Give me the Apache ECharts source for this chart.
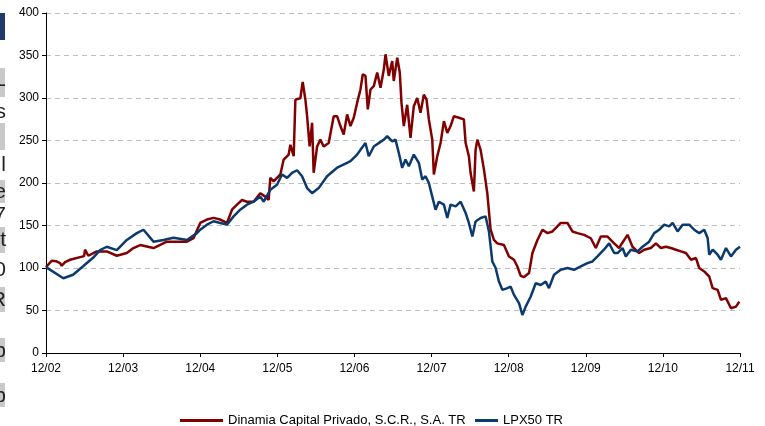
<!DOCTYPE html>
<html>
<head>
<meta charset="utf-8">
<script src="https://cdn.jsdelivr.net/npm/echarts@6/dist/echarts.min.js"></script>
<style>
  html, body { margin: 0; padding: 0; background: #fff; }
  #main { width: 765px; height: 426px; }
</style>
</head>
<body>
<div id="main"></div>
<script>
// x = years since 12/02
var tickLabels = ['12/02', '12/03', '12/04', '12/05', '12/06', '12/07', '12/08', '12/09', '12/10', '12/11'];

var dinamiaName = 'Dinamia Capital Privado, S.C.R., S.A. TR';
var lpxName = 'LPX50 TR';

var dinamiaT = [0, 0.074, 0.13, 0.182, 0.204, 0.247, 0.312, 0.442, 0.494, 0.506, 0.549, 0.658, 0.788, 0.918,
  1.048, 1.134, 1.221, 1.394, 1.568, 1.697, 1.827, 1.913, 2.0, 2.087, 2.173, 2.26, 2.347, 2.412, 2.477,
  2.542, 2.606, 2.692, 2.779, 2.844, 2.887, 2.909, 2.952, 3.039, 3.082, 3.147, 3.169, 3.212, 3.234, 3.299,
  3.329, 3.364, 3.386, 3.419, 3.451, 3.471, 3.516, 3.558, 3.601, 3.666, 3.731, 3.775, 3.818, 3.861, 3.905,
  3.948, 3.991, 4.035, 4.078, 4.108, 4.143, 4.173, 4.208, 4.251, 4.295, 4.338, 4.381, 4.403, 4.445, 4.49,
  4.51, 4.555, 4.588, 4.61, 4.64, 4.684, 4.727, 4.77, 4.814, 4.857, 4.9, 4.935, 4.965, 5.009, 5.03,
  5.074, 5.117, 5.16, 5.204, 5.247, 5.29, 5.355, 5.419, 5.442, 5.484, 5.506, 5.549, 5.571, 5.594, 5.636,
  5.679, 5.723, 5.766, 5.809, 5.853, 5.939, 6.004, 6.069, 6.113, 6.156, 6.199, 6.264, 6.308, 6.373, 6.438,
  6.503, 6.568, 6.632, 6.675, 6.762, 6.827, 6.892, 6.978, 7.065, 7.13, 7.195, 7.282, 7.368, 7.432, 7.455,
  7.542, 7.606, 7.692, 7.757, 7.844, 7.909, 7.974, 8.039, 8.104, 8.169, 8.234, 8.299, 8.364, 8.429, 8.471,
  8.536, 8.601, 8.645, 8.71, 8.753, 8.818, 8.883, 8.948, 8.991];
var dinamiaV = [101, 108.5, 108, 105.8, 102.6, 107, 109.7, 112.8, 114, 121.5, 114.4, 119.5, 119.5, 114.4,
  117.6, 123.5, 127, 123.5, 131, 131, 131, 135, 153, 157, 159, 157, 153, 168.6, 174.5,
  180, 178, 178, 188, 184, 180, 206, 202, 210, 227.6, 233.5, 245, 231.5, 298, 300,
  319, 298, 278.6, 243, 270.8, 212, 243, 251, 243, 247, 278.6, 278.6, 267, 257, 280.7,
  267, 276.8, 294.5, 310, 328, 326, 286.6, 310, 314, 330, 312, 333.7, 351.4, 326, 343.5,
  320, 347.5, 330, 294.5, 267, 292, 253, 290.4, 300, 282.6, 304, 298, 274.8, 251, 210,
  231.5, 247, 272.8, 259, 267, 278.6, 276.8, 274.8, 247, 231.5, 212, 190, 239, 251, 239,
  216, 188, 145, 133, 129, 127, 113.6, 109.7, 101.8, 90.8, 89.3, 94, 117.6, 133, 145,
  141, 143, 149, 153, 153, 143, 141, 139, 135, 123.5, 137, 137, 129, 123.5, 127,
  139, 125, 117.6, 121.5, 123.5, 129, 123.5, 125, 123.5, 121.5, 119.5, 117.6, 109.7, 111.7, 100,
  95.9, 90, 76.3, 74.3, 62.5, 64.5, 52.7, 54.6, 60.5];

var lpxT = [0, 0.009, 0.225, 0.351, 0.481, 0.61, 0.701, 0.788, 0.918, 1.048, 1.178, 1.264, 1.394, 1.523,
  1.653, 1.827, 1.957, 2.0, 2.087, 2.173, 2.26, 2.347, 2.433, 2.519, 2.606, 2.692, 2.779, 2.823, 2.909,
  2.996, 3.061, 3.126, 3.191, 3.256, 3.321, 3.386, 3.451, 3.536, 3.645, 3.775, 3.905, 3.948, 4.035, 4.078,
  4.143, 4.186, 4.251, 4.381, 4.425, 4.49, 4.532, 4.575, 4.619, 4.662, 4.705, 4.77, 4.835, 4.879, 4.922,
  4.965, 5.009, 5.052, 5.095, 5.16, 5.204, 5.247, 5.312, 5.377, 5.442, 5.484, 5.529, 5.571, 5.636, 5.701,
  5.744, 5.788, 5.831, 5.874, 5.918, 5.983, 6.026, 6.069, 6.134, 6.178, 6.221, 6.286, 6.351, 6.416, 6.481,
  6.523, 6.588, 6.675, 6.762, 6.848, 6.935, 7.022, 7.087, 7.152, 7.235, 7.303, 7.368, 7.412, 7.477, 7.519,
  7.584, 7.671, 7.736, 7.822, 7.887, 7.952, 8.017, 8.082, 8.126, 8.191, 8.256, 8.342, 8.406, 8.471, 8.536,
  8.581, 8.601, 8.645, 8.71, 8.753, 8.818, 8.883, 8.948, 9.0];
var lpxV = [101, 102.6, 88, 92, 102, 112, 121, 125, 121, 133, 141, 145, 131, 133,
  135.6, 133, 141, 145, 151, 155, 153, 151, 160.7, 168.6, 174.5, 178, 184, 178, 192,
  198, 210, 206, 212, 215, 208, 194, 188, 194, 208, 218, 223.7, 225.6, 233.5, 239,
  247, 231.5, 243, 251, 255, 249, 251, 235.5, 217.8, 227.6, 219.7, 233.5, 223.7, 204, 208,
  200, 184, 168.6, 178, 174.5, 158.8, 174.5, 172.5, 178, 164.7, 153, 137, 154.8, 158.8, 160.7,
  143, 107.7, 100, 84, 74.3, 76.3, 78, 68.4, 58.6, 44.8, 54.6, 66.4, 82, 80, 84,
  76.3, 92, 97.9, 100, 97.9, 101.8, 105.8, 107.7, 113.6, 121.5, 129, 117.6, 117.6, 123.5, 113.6,
  121.5, 119.5, 125, 131, 141, 145, 151, 149, 153, 143, 151, 151, 145, 141, 145,
  135, 115.6, 121.5, 115.6, 109.7, 123.5, 113.6, 121.5, 125];

function pairs(t, v) {
  var res = [];
  for (var i = 0; i < t.length; i++) {
    res.push([t[i], v[i]]);
  }
  return res;
}

var myChart = echarts.init(document.getElementById('main'));

// cut-off bits of the slide text on the left edge
var leftBoxes = [[68, 29], [123, 27], [180, 23], [227, 26], [287, 25], [338, 24], [383, 24]];
var leftChars = [['-', 85], ['s', 112], ['l', 165], ['e', 192], ['7', 215], ['t', 240], ['0', 270], ['R', 300], ['b', 351], ['b', 396]];
var graphics = [{ type: 'rect', shape: { x: 0, y: 13, width: 5, height: 27 }, style: { fill: '#1f3a68' } }];
leftBoxes.forEach(function (b) {
  graphics.push({ type: 'rect', shape: { x: 0, y: b[0], width: 5, height: b[1] }, style: { fill: '#c9c9c9' } });
});
leftChars.forEach(function (c) {
  graphics.push({
    type: 'text', x: 6, y: c[1],
    style: { text: c[0], fill: '#222', font: '21px Arial, "Liberation Sans"', textAlign: 'right', textVerticalAlign: 'middle' }
  });
});

var option = {
  animation: false,
  textStyle: { fontFamily: 'Arial, "Liberation Sans", sans-serif' },
  grid: { left: 46, right: 25, top: 13, bottom: 73 },
  legend: [{
    data: [dinamiaName],
    left: 175,
    top: 409,
    itemWidth: 43,
    itemHeight: 3,
    icon: 'rect',
    textStyle: { fontSize: 13, color: '#000' }
  }, {
    data: [lpxName],
    left: 470,
    top: 409,
    itemWidth: 23,
    itemHeight: 3,
    icon: 'rect',
    textStyle: { fontSize: 13, color: '#000' }
  }],
  xAxis: {
    type: 'value',
    min: 0,
    max: 9,
    interval: 1,
    axisLine: { lineStyle: { color: '#000', width: 1 } },
    axisTick: { show: true, length: 4, lineStyle: { color: '#000' } },
    axisLabel: {
      fontSize: 12, color: '#000', margin: 10,
      formatter: function (v) { return tickLabels[Math.round(v)]; }
    },
    splitLine: { show: false }
  },
  yAxis: {
    type: 'value',
    min: 0,
    max: 400,
    interval: 50,
    axisLine: { show: true, lineStyle: { color: '#000', width: 1 } },
    axisTick: { show: true, length: 4, lineStyle: { color: '#000' } },
    axisLabel: { fontSize: 12, color: '#000', margin: 7 },
    splitLine: { lineStyle: { color: '#c0c0c0', type: [5, 4], width: 1 } }
  },
  series: [{
    name: dinamiaName,
    type: 'line',
    data: pairs(dinamiaT, dinamiaV),
    showSymbol: false,
    symbol: 'none',
    lineStyle: { color: '#820000', width: 2.5 },
    itemStyle: { color: '#820000' },
    z: 2
  }, {
    name: lpxName,
    type: 'line',
    data: pairs(lpxT, lpxV),
    showSymbol: false,
    symbol: 'none',
    lineStyle: { color: '#0b3a6e', width: 2.5 },
    itemStyle: { color: '#0b3a6e' },
    z: 3
  }],
  graphic: graphics
};

myChart.setOption(option);
</script>
</body>
</html>
